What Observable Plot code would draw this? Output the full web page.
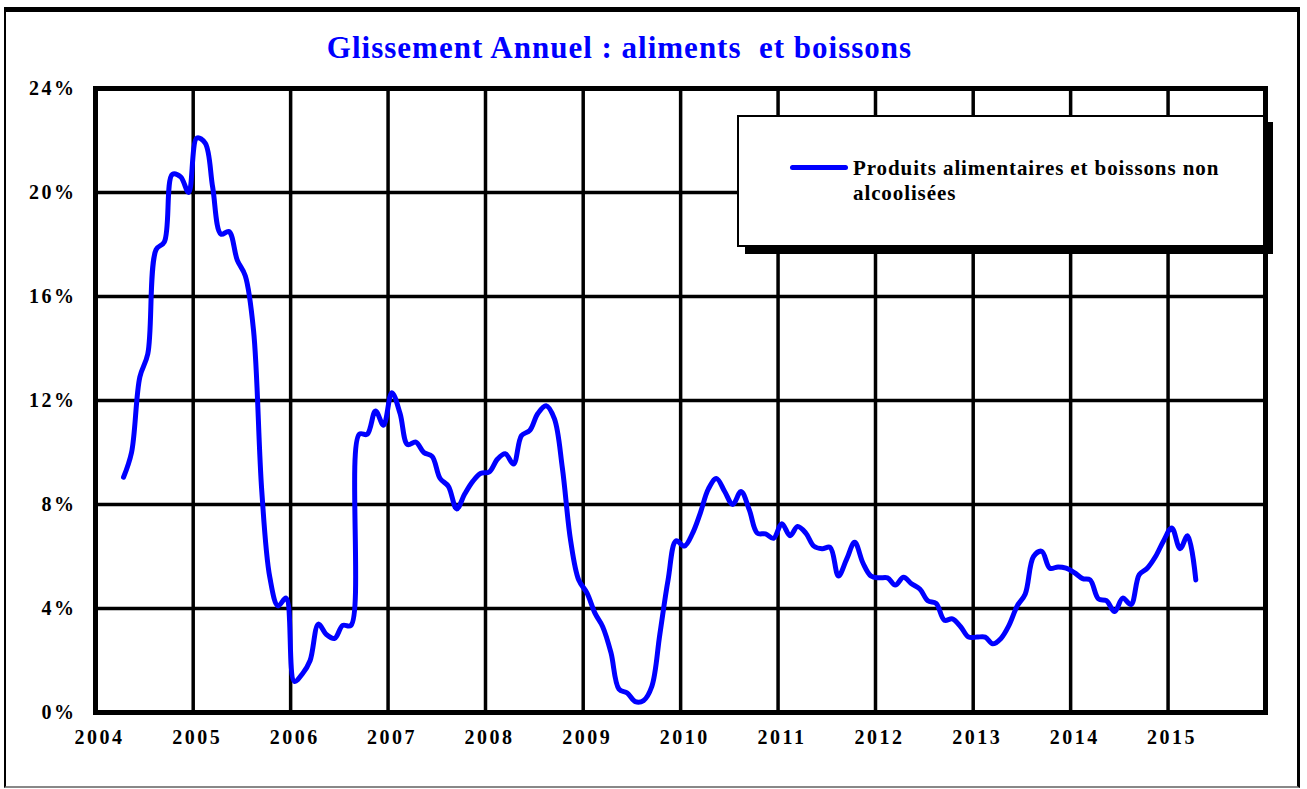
<!DOCTYPE html>
<html><head><meta charset="utf-8">
<script src="https://cdn.jsdelivr.net/npm/d3@7"></script>
<script src="https://cdn.jsdelivr.net/npm/@observablehq/plot@0.6"></script>
<style>
body{margin:0;background:#fff;}
#wrap{position:relative;width:1307px;height:789px;overflow:hidden;font-family:"Liberation Serif","Times New Roman",serif;background:#fff;}
#frame{position:absolute;left:4px;top:7px;width:1296px;height:781px;border-top:5px solid #000;border-left:2px solid #000;border-right:3px solid #000;border-bottom:2px solid #888;box-sizing:border-box;pointer-events:none;}
#title{position:absolute;left:0;width:1239px;top:32px;text-align:center;color:#0000ff;font-weight:bold;font-size:31px;line-height:31px;letter-spacing:1px;white-space:pre;}
#chart{position:absolute;left:0;top:0;}
#chart svg text{letter-spacing:2.5px;}
#legend{position:absolute;left:737px;top:115px;width:528px;height:132px;border:2px solid #000;box-sizing:border-box;background:#fff;box-shadow:8px 7px 0 #000;}
#legend .swatch{position:absolute;left:51px;top:48px;width:58px;height:5px;background:#0000ff;border-radius:3px;}
#legend .lab{position:absolute;left:114px;top:39px;font-weight:bold;font-size:21px;line-height:25px;color:#000;white-space:nowrap;letter-spacing:0.9px;}
</style>
</head><body>
<div id="wrap">
  <div id="chart"></div>
  <div id="frame"></div>
  <div id="title">Glissement Annuel : aliments  et boissons</div>
  <div id="legend"><div class="swatch"></div><div class="lab">Produits alimentaires et boissons non<br>alcoolisées</div></div>
</div>
<script>
// Year-over-year change (%), monthly values
const startYear = 2004, startMonth = 3; // April 2004 (0-based month)
const v2004 = [9.05, 10.0, 12.9, 13.8, 17.8, 18.1, 20.7, 20.6, 20.0];
const v2005 = [22.1, 21.9, 20.2, 18.4, 18.5, 17.4, 16.8, 14.7, 8.5, 5.2, 4.1, 4.4];
const v2006 = [1.2, 1.5, 2.0, 3.4, 3.0, 2.85, 3.35, 3.35, 10.7, 10.7, 11.6, 11.05];
const v2007 = [12.3, 11.5, 10.3, 10.4, 10.0, 9.85, 9.0, 8.7, 7.83, 8.4, 8.9, 9.2];
const v2008 = [9.25, 9.75, 9.95, 9.56, 10.65, 10.85, 11.5, 11.8, 11.3, 9.4, 6.6, 5.1];
const v2009 = [4.6, 3.8, 3.3, 2.3, 0.9, 0.75, 0.42, 0.46, 1.0, 3.0, 5.1, 6.6];
const v2010 = [6.4, 6.9, 7.65, 8.6, 9.0, 8.5, 8.0, 8.5, 7.8, 6.9, 6.87, 6.7];
const v2011 = [7.26, 6.8, 7.15, 6.9, 6.4, 6.3, 6.35, 5.25, 5.9, 6.55, 5.75, 5.25];
const v2012 = [5.18, 5.18, 4.9, 5.2, 4.95, 4.75, 4.3, 4.2, 3.55, 3.6, 3.3, 2.9];
const v2013 = [2.9, 2.9, 2.64, 2.85, 3.35, 4.1, 4.56, 6.0, 6.2, 5.55, 5.6, 5.55];
const v2014 = [5.38, 5.15, 5.1, 4.37, 4.3, 3.88, 4.4, 4.15, 5.3, 5.55, 6.0, 6.6];
const v2015 = [7.1, 6.3, 6.8, 5.1];

const yearLabels = [2004, 2005, 2006, 2007, 2008, 2009, 2010, 2011, 2012, 2013, 2014, 2015];
const yTicks = [0, 4, 8, 12, 16, 20, 24];

const series = [v2004, v2005, v2006, v2007, v2008, v2009, v2010, v2011, v2012, v2013, v2014, v2015];
const data = [];
series.forEach((arr, i) => {
  const y = startYear + i;
  const m0 = i === 0 ? startMonth : 0;
  arr.forEach((v, j) => data.push({date: new Date(Date.UTC(y, m0 + j, 15)), value: v}));
});

const yearDates = yearLabels.map(y => new Date(Date.UTC(y, 0, 1)));
const innerYearDates = yearDates.slice(1);

const chart = Plot.plot({
  width: 1307,
  height: 789,
  marginLeft: 95,
  marginRight: 42,
  marginTop: 88,
  marginBottom: 77,
  style: {fontFamily: '"Liberation Serif","Times New Roman",serif', fontWeight: "bold", fontSize: "20px", color: "#000", background: "transparent"},
  x: {type: "utc", domain: [new Date(Date.UTC(2004, 0, 1)), new Date(Date.UTC(2016, 0, 1))]},
  y: {domain: [0, 24]},
  marks: [
    Plot.ruleX(innerYearDates, {stroke: "#000", strokeWidth: 3.5}),
    Plot.ruleY(yTicks.slice(1, -1), {stroke: "#000", strokeWidth: 3.5}),
    Plot.frame({stroke: "#000", strokeWidth: 5}),
    Plot.axisX({ticks: yearDates, tickFormat: d => String(d.getUTCFullYear()), tickSize: 0, tickPadding: 17, dx: 4, fontSize: 20, fontWeight: "bold", label: null}),
    Plot.axisY({ticks: yTicks, tickFormat: d => d + "%", tickSize: 0, tickPadding: 19, fontSize: 20, fontWeight: "bold", label: null}),
    Plot.lineY(data, {x: "date", y: "value", stroke: "#0000ff", strokeWidth: 5, curve: "catmull-rom", strokeLinejoin: "round", strokeLinecap: "round"})
  ]
});
document.getElementById("chart").appendChild(chart);
</script>
</body></html>
